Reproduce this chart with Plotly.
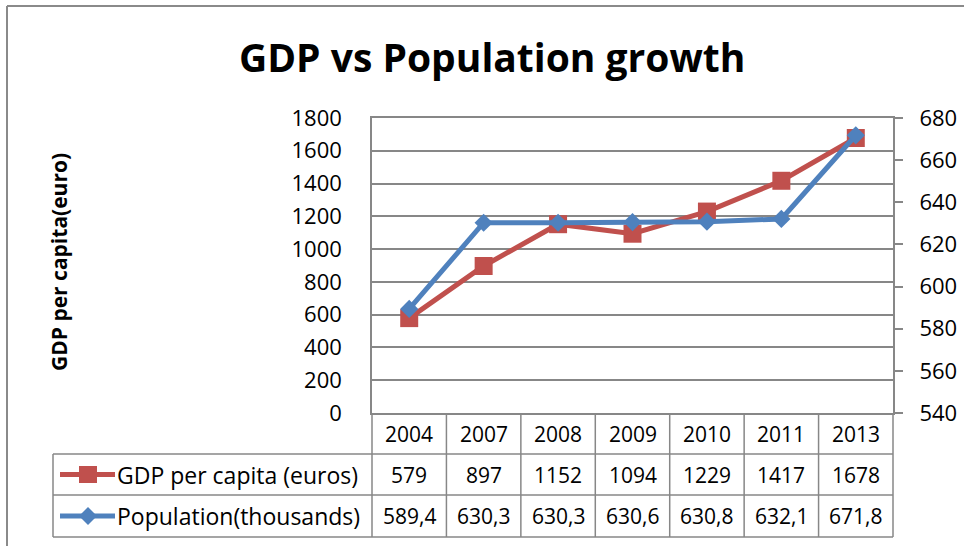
import plotly.graph_objects as go

# ---- data ----
years = ["2004", "2007", "2008", "2009", "2010", "2011", "2013"]
gdp_per_capita = [579, 897, 1152, 1094, 1229, 1417, 1678]
population_thousands = [589.4, 630.3, 630.3, 630.6, 630.8, 632.1, 671.8]
gdp_name = "GDP per capita (euros)"
pop_name = "Population(thousands)"
chart_title = "GDP vs Population growth"
y_title = "GDP per capita(euro)"

W, H = 964, 546
RED = "#C0504D"
BLUE = "#4F81BD"
GRID = "#878787"
FONT = "Open Sans, Lato, Arial, sans-serif"


def px(x):
    return x / W


def py(y):
    return 1 - y / H


PL, PR, PT, PB = 372, 893, 118, 413  # plot area in pixels
ROW1, ROW2, ROW3 = 454, 495, 537      # table row boundaries
TL = 53                               # table left edge

fig = go.Figure()
fig.add_trace(go.Scatter(
    x=years, y=gdp_per_capita, name=gdp_name, mode="lines+markers",
    line=dict(color=RED, width=5),
    marker=dict(symbol="square", size=18, color=RED),
    xaxis="x", yaxis="y", showlegend=False,
))
fig.add_trace(go.Scatter(
    x=years, y=population_thousands, name=pop_name, mode="lines+markers",
    line=dict(color=BLUE, width=5),
    marker=dict(symbol="diamond", size=14, color=BLUE),
    xaxis="x", yaxis="y2", showlegend=False,
))

shapes = []
# outer chart frame (left and top visible)
shapes.append(dict(type="line", xref="paper", yref="paper",
                   x0=px(7), x1=px(7), y0=py(6), y1=py(600),
                   line=dict(color="#8a8a8a", width=2)))
shapes.append(dict(type="line", xref="paper", yref="paper",
                   x0=px(7), x1=px(1000), y0=py(6), y1=py(6),
                   line=dict(color="#8a8a8a", width=2)))
# table horizontal lines
for yy in (ROW1, ROW2, ROW3):
    shapes.append(dict(type="line", xref="paper", yref="paper",
                       x0=px(TL), x1=px(PR), y0=py(yy), y1=py(yy),
                       line=dict(color=GRID, width=1.5)))
# table vertical lines
shapes.append(dict(type="line", xref="paper", yref="paper",
                   x0=px(TL), x1=px(TL), y0=py(ROW1), y1=py(ROW3),
                   line=dict(color=GRID, width=1.5)))
for xx in (PL, PR):
    shapes.append(dict(type="line", xref="paper", yref="paper",
                       x0=px(xx), x1=px(xx), y0=py(PB), y1=py(ROW3),
                       line=dict(color=GRID, width=1.5)))
for k in range(1, len(years)):
    shapes.append(dict(type="line", xref="x", yref="paper",
                       x0=k - 0.5, x1=k - 0.5, y0=py(PB), y1=py(ROW3),
                       line=dict(color=GRID, width=1.5)))


# legend keys inside table
def key(yc, color, symbol):
    out = [dict(type="line", xref="paper", yref="paper",
                x0=px(60), x1=px(115), y0=py(yc), y1=py(yc),
                line=dict(color=color, width=5))]
    cx = 88
    if symbol == "square":
        out.append(dict(type="rect", xref="paper", yref="paper",
                        x0=px(cx - 9), x1=px(cx + 9), y0=py(yc - 8.5), y1=py(yc + 8.5),
                        fillcolor=color, line=dict(width=0)))
    else:
        r = 9
        path = (f"M {px(cx)} {py(yc - r)} L {px(cx + r)} {py(yc)} "
                f"L {px(cx)} {py(yc + r)} L {px(cx - r)} {py(yc)} Z")
        out.append(dict(type="path", xref="paper", yref="paper", path=path,
                        fillcolor=color, line=dict(width=0)))
    return out


shapes += key(474.5, RED, "square")
shapes += key(516, BLUE, "diamond")

annotations = []
annotations.append(dict(text=f"<b>{chart_title}</b>", xref="paper", yref="paper",
                        x=px(492), y=py(57), xanchor="center", yanchor="middle",
                        showarrow=False, font=dict(family=FONT, size=39, color="black")))
annotations.append(dict(text=f"<b>{y_title}</b>", xref="paper", yref="paper",
                        x=px(59), y=py(262), xanchor="center", yanchor="middle",
                        textangle=-90, showarrow=False,
                        font=dict(family=FONT, size=21, color="black")))

TFONT = dict(family=FONT, size=21, color="black")
LFONT = dict(family=FONT, size=23, color="black")
for i, yr in enumerate(years):
    annotations.append(dict(text=yr, xref="x", yref="paper", x=i, y=py(434),
                            xanchor="center", yanchor="middle", showarrow=False, font=TFONT))
    annotations.append(dict(text=str(gdp_per_capita[i]), xref="x", yref="paper", x=i,
                            y=py(474.5), xanchor="center", yanchor="middle",
                            showarrow=False, font=TFONT))
    annotations.append(dict(text=f"{population_thousands[i]:.1f}".replace(".", ","),
                            xref="x", yref="paper", x=i, y=py(516),
                            xanchor="center", yanchor="middle", showarrow=False, font=TFONT))
annotations.append(dict(text=gdp_name, xref="paper", yref="paper", x=px(115), y=py(474.5),
                        xanchor="left", yanchor="middle", showarrow=False, font=LFONT))
annotations.append(dict(text=pop_name, xref="paper", yref="paper", x=px(115), y=py(516),
                        xanchor="left", yanchor="middle", showarrow=False, font=LFONT))

fig.update_layout(
    width=W, height=H, autosize=False,
    margin=dict(l=0, r=0, t=0, b=0, pad=0, autoexpand=False),
    paper_bgcolor="white", plot_bgcolor="white",
    font=dict(family=FONT, color="black"),
    xaxis=dict(type="category", domain=[px(PL), px(PR)], range=[-0.5, len(years) - 0.5],
               showticklabels=False, showgrid=False, zeroline=False, ticks="",
               showline=True, mirror=True, linecolor=GRID, linewidth=1.5,
               automargin=False, fixedrange=True),
    yaxis=dict(domain=[py(PB), py(PT)], range=[0, 1800], dtick=200, tick0=0,
               showgrid=True, gridcolor=GRID, gridwidth=1.5, zeroline=False,
               showline=True, mirror=True, linecolor=GRID, linewidth=1.5,
               ticks="", ticklabelstandoff=24, tickfont=dict(family=FONT, size=22, color="black"),
               automargin=False, fixedrange=True),
    yaxis2=dict(overlaying="y", side="right", range=[540, 680], dtick=20, tick0=540,
                showgrid=False, zeroline=False, showline=False,
                ticks="outside", ticklen=9, tickwidth=1.5, tickcolor=GRID,
                ticklabelstandoff=12, tickfont=dict(family=FONT, size=22, color="black"),
                automargin=False, fixedrange=True),
    shapes=shapes,
    annotations=annotations,
    showlegend=False,
)

fig.write_html(
    "out.html",
    config={"displayModeBar": False},
    post_script="document.body.style.margin='0';document.body.style.overflow='hidden';",
)
